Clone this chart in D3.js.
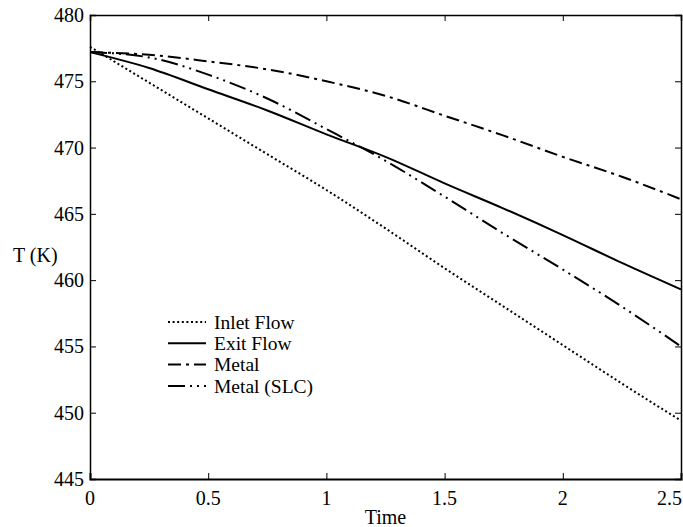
<!DOCTYPE html>
<html>
<head>
<meta charset="utf-8">
<script src="https://cdn.jsdelivr.net/npm/d3@7/dist/d3.min.js"></script>
<style>
  body { margin: 0; background: #fff; }
  text { font-family: "Liberation Serif", "DejaVu Serif", serif; fill: #000; }
</style>
</head>
<body>
<div id="chart"></div>
<script>
// sample times
var times = [0, 0.25, 0.5, 0.75, 1.0, 1.25, 1.5, 1.75, 2.0, 2.25, 2.5];

// temperatures (K)
var inletFlow = [477.6, 474.9, 472.2, 469.5, 466.8, 463.9, 460.9, 458.0, 455.1, 452.2, 449.4];
var exitFlow  = [477.2, 476.0, 474.4, 472.8, 471.0, 469.3, 467.3, 465.4, 463.4, 461.3, 459.3];
var metal     = [477.2, 477.0, 476.5, 475.9, 475.0, 473.9, 472.4, 470.9, 469.3, 467.8, 466.1];
var metalSLC  = [477.2, 476.8, 475.5, 473.7, 471.4, 469.0, 466.3, 463.5, 460.8, 458.0, 455.0];

var seriesNames = ["Inlet Flow", "Exit Flow", "Metal", "Metal (SLC)"];
var xTicks = [0, 0.5, 1, 1.5, 2, 2.5];
var yTicks = [445, 450, 455, 460, 465, 470, 475, 480];

var W = 683, H = 527;
var margin = { left: 90, right: 2, top: 15, bottom: 48 };

var svg = d3.select("#chart").append("svg")
  .attr("width", W)
  .attr("height", H);

var x = d3.scaleLinear().domain([0, 2.5]).range([margin.left, W - margin.right]);
var y = d3.scaleLinear().domain([445, 480]).range([H - margin.bottom, margin.top]);

var styles = [
  { dash: "2,2.6", width: 2 },
  { dash: null, width: 2 },
  { dash: "13,5,3,5", width: 2 },
  { dash: "17,5,2,5,2,5", width: 2 }
];

var allSeries = [inletFlow, exitFlow, metal, metalSLC];

var line = d3.line()
  .x(function (d) { return x(d[0]); })
  .y(function (d) { return y(d[1]); })
  .curve(d3.curveMonotoneX);

var plot = svg.append("g");
allSeries.forEach(function (vals, i) {
  var pts = times.map(function (t, j) { return [t, vals[j]]; });
  plot.append("path")
    .datum(pts)
    .attr("fill", "none")
    .attr("stroke", "#000")
    .attr("stroke-width", styles[i].width)
    .attr("stroke-dasharray", styles[i].dash)
    .attr("d", line);
});

// axes (ticks point inward, mirrored on top/right)
var tickLen = 6;
var axBottom = svg.append("g").attr("transform", "translate(0," + y(445) + ")")
  .call(d3.axisTop(x).tickValues(xTicks).tickSize(tickLen).tickFormat(""));
var axTop = svg.append("g").attr("transform", "translate(0," + y(480) + ")")
  .call(d3.axisBottom(x).tickValues(xTicks).tickSize(tickLen).tickFormat(""));
var axLeft = svg.append("g").attr("transform", "translate(" + x(0) + ",0)")
  .call(d3.axisRight(y).tickValues(yTicks).tickSize(tickLen).tickFormat(""));
var axRight = svg.append("g").attr("transform", "translate(" + x(2.5) + ",0)")
  .call(d3.axisLeft(y).tickValues(yTicks).tickSize(tickLen).tickFormat(""));
[axBottom, axTop, axLeft, axRight].forEach(function (g) {
  g.selectAll("path").attr("stroke", "#000").attr("stroke-width", 1.5);
  g.selectAll("line").attr("stroke", "#000").attr("stroke-width", 1);
});
axBottom.select("path").attr("stroke-width", 2);

// tick labels
svg.selectAll(".xl").data(xTicks).enter().append("text")
  .attr("x", function (d) { return d === 2.5 ? W - 1 : x(d); })
  .attr("y", 505)
  .attr("text-anchor", function (d) { return d === 2.5 ? "end" : "middle"; })
  .style("font-size", "20px")
  .text(function (d) { return d; });

svg.selectAll(".yl").data(yTicks).enter().append("text")
  .attr("x", x(0) - 6)
  .attr("y", function (d) { return y(d); })
  .attr("dy", "0.35em")
  .attr("text-anchor", "end")
  .style("font-size", "20px")
  .text(function (d) { return d; });

svg.append("text")
  .attr("x", (x(0) + x(2.5)) / 2)
  .attr("y", 524)
  .attr("text-anchor", "middle")
  .style("font-size", "20px")
  .text("Time");

svg.append("text")
  .attr("x", 13)
  .attr("y", 262)
  .style("font-size", "20px")
  .text("T (K)");

// legend
var legend = svg.append("g");
seriesNames.forEach(function (name, i) {
  var ly = 322 + i * 21.3;
  legend.append("line")
    .attr("x1", 168).attr("x2", 206)
    .attr("y1", ly).attr("y2", ly)
    .attr("stroke", "#000")
    .attr("stroke-width", styles[i].width)
    .attr("stroke-dasharray", styles[i].dash);
  legend.append("text")
    .attr("x", 214)
    .attr("y", ly)
    .attr("dy", "0.35em")
    .style("font-size", "19.5px")
    .text(name);
});
</script>
</body>
</html>
